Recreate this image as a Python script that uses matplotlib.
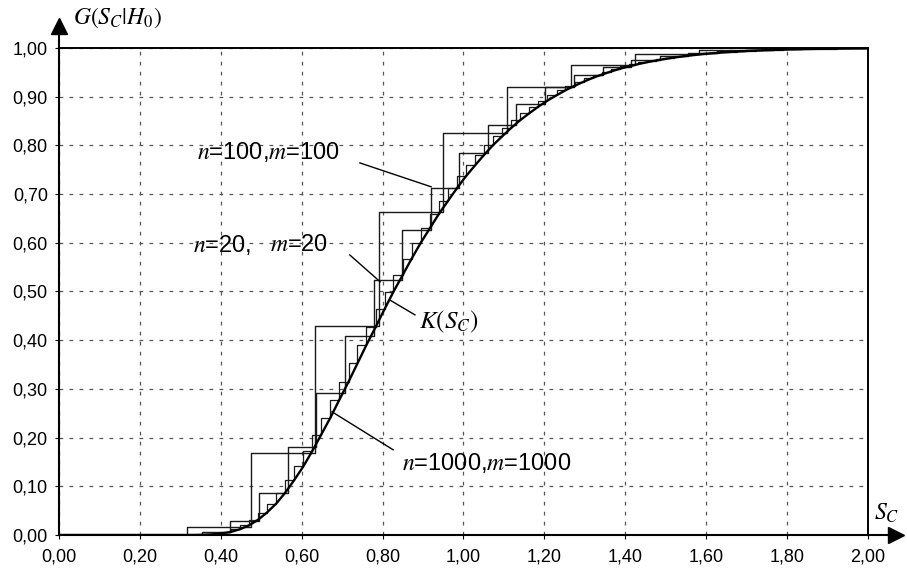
import matplotlib
matplotlib.use('Agg')
import matplotlib.pyplot as plt
import numpy as np

plt.rcParams['font.family'] = ['Liberation Sans', 'DejaVu Sans']
plt.rcParams['mathtext.fontset'] = 'stix'

# ---------------- data ----------------
# n=20, m=20 step function: jump positions and levels
s20 = [0.000, 0.158, 0.316, 0.474, 0.632, 0.791, 0.949, 1.107, 1.265,
       1.423, 1.581, 1.739, 1.897, 2.000]
g20 = [0.000, 0.000, 0.017, 0.168, 0.429, 0.664, 0.826, 0.919, 0.966,
       0.988, 0.996, 0.999, 1.000, 1.000]

# n=100, m=100 step function
s100 = [0.000, 0.354, 0.424, 0.495, 0.566, 0.636, 0.707, 0.778, 0.849,
        0.919, 0.990, 1.061, 1.131, 1.202, 1.273, 1.344, 1.414, 1.485,
        1.556, 1.626, 1.697, 1.768, 1.838, 1.909, 2.000]
g100 = [0.000, 0.006, 0.029, 0.087, 0.180, 0.291, 0.409, 0.523, 0.626,
        0.712, 0.784, 0.841, 0.886, 0.919, 0.944, 0.962, 0.975, 0.984,
        0.990, 0.993, 0.996, 0.998, 0.999, 1.000, 1.000]

# limiting curve K(S_C); the n=1000 steps sit on these same points
kx = [0.000, 0.224, 0.268, 0.291, 0.313, 0.335, 0.358, 0.380, 0.402, 0.425,
      0.447, 0.470, 0.492, 0.514, 0.537, 0.559, 0.581, 0.604, 0.626, 0.648,
      0.671, 0.693, 0.716, 0.738, 0.760, 0.783, 0.805, 0.827, 0.850, 0.872,
      0.894, 0.917, 0.939, 0.962, 0.984, 1.006, 1.029, 1.051, 1.073, 1.096,
      1.118, 1.140, 1.163, 1.185, 1.207, 1.230, 1.252, 1.275, 1.297, 1.319,
      1.342, 1.364, 1.386, 1.409, 1.431, 1.453, 1.476, 1.498, 1.521, 1.543,
      1.565, 1.588, 1.610, 1.632, 1.655, 1.677, 1.699, 1.722, 1.744, 1.767,
      1.789, 1.834, 1.878, 1.923, 2.000]
ky = [0.0000, 0.0000, 0.0000, 0.0000, 0.0000, 0.0001, 0.0005, 0.0013, 0.0031, 0.0063,
      0.0117, 0.0198, 0.0311, 0.0460, 0.0644, 0.0865, 0.1121, 0.1407, 0.1721, 0.2056,
      0.2409, 0.2775, 0.3148, 0.3525, 0.3901, 0.4273, 0.4640, 0.4996, 0.5342, 0.5676,
      0.5995, 0.6300, 0.6590, 0.6864, 0.7123, 0.7366, 0.7594, 0.7807, 0.8005, 0.8189,
      0.8359, 0.8517, 0.8662, 0.8795, 0.8917, 0.9029, 0.9131, 0.9224, 0.9308, 0.9385,
      0.9454, 0.9516, 0.9572, 0.9622, 0.9667, 0.9707, 0.9743, 0.9775, 0.9804, 0.9829,
      0.9851, 0.9871, 0.9888, 0.9903, 0.9916, 0.9928, 0.9938, 0.9947, 0.9954, 0.9961,
      0.9967, 0.9976, 0.9983, 0.9988, 0.9995]
s1000 = kx
g1000 = ky

xticks = [0.0, 0.2, 0.4, 0.6, 0.8, 1.0, 1.2, 1.4, 1.6, 1.8, 2.0]
yticks = [0.0, 0.1, 0.2, 0.3, 0.4, 0.5, 0.6, 0.7, 0.8, 0.9, 1.0]

# ---------------- figure ----------------
fig = plt.figure(figsize=(9.07, 5.68), dpi=100)
ax = fig.add_axes([0.0650, 0.0581, 0.8920, 0.8574])
ax.set_xlim(0, 2)
ax.set_ylim(0, 1)

line_col = '#1a1a1a'
ax.step(s20, g20, where='post', color=line_col, lw=1.0)
ax.step(s100, g100, where='post', color=line_col, lw=1.0)
ax.step(s1000, g1000, where='pre', color=line_col, lw=0.9)
ax.plot(kx, ky, color='black', lw=1.7)

# grid and frame
ax.set_xticks(xticks)
ax.set_yticks(yticks)
ax.set_xticklabels([f'{v:.2f}'.replace('.', ',') for v in xticks], fontsize=13)
ax.set_yticklabels([f'{v:.2f}'.replace('.', ',') for v in yticks], fontsize=13)
ax.tick_params(axis='x', length=3, pad=7)
ax.tick_params(axis='y', length=3, pad=5)
ax.grid(True, linestyle=(0, (3, 5)), color='#555555', lw=0.9)
ax.set_axisbelow(True)
for side in ['top', 'right']:
    ax.spines[side].set_linewidth(1.4)
for side in ['left', 'bottom']:
    ax.spines[side].set_visible(False)

# arrowed axes (line + triangle head)
ax.plot([0, 0], [0, 1.045], transform=ax.transAxes, color='black', lw=1.5,
        clip_on=False)
ax.plot([0], [1.045], transform=ax.transAxes, marker='^', ms=11, color='black',
        clip_on=False)
ax.plot([0, 1.035], [0, 0], transform=ax.transAxes, color='black', lw=1.5,
        clip_on=False)
ax.plot([1.035], [0], transform=ax.transAxes, marker='>', ms=11, color='black',
        clip_on=False)

# axis titles
ax.text(0.035, 1.062, r'$G(S_C|H_0)$', fontsize=17, ha='left', va='center',
        clip_on=False)
ax.text(2.045, 0.045, r'$S_C$', fontsize=17, ha='center', va='center',
        clip_on=False)

# curve labels with leader lines
lead = dict(color='black', lw=1.0)
ax.text(0.341, 0.786, r'$n$=100,$m$=100', fontsize=17, ha='left', va='center')
ax.plot([0.744, 0.920], [0.764, 0.715], **lead)

ax.text(0.331, 0.595, r'$n$=20,', fontsize=17, ha='left', va='center')
ax.text(0.522, 0.595, r'$m$=20', fontsize=17, ha='left', va='center')
ax.plot([0.719, 0.794], [0.575, 0.520], **lead)

ax.text(0.890, 0.437, r'$K(S_C)$', fontsize=18, ha='left', va='center')
ax.plot([0.817, 0.880], [0.483, 0.452], **lead)

ax.text(0.848, 0.148, r'$n$=1000,$m$=1000', fontsize=17, ha='left', va='center')
ax.plot([0.675, 0.826], [0.253, 0.175], **lead)

plt.savefig('out.png', dpi=100)
plt.close()
